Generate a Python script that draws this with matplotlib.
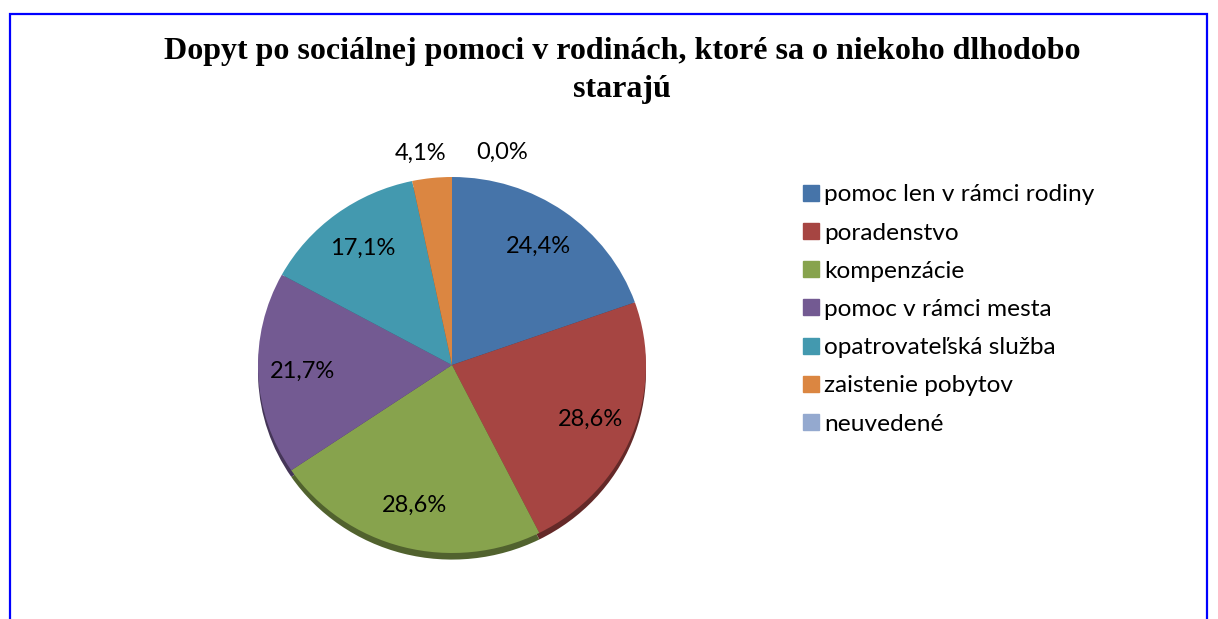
import matplotlib
matplotlib.use("Agg")
import matplotlib.pyplot as plt
from matplotlib.lines import Line2D
from matplotlib.patches import Rectangle
import matplotlib.colors as mcolors
import numpy as np

title_lines = ["Dopyt po sociálnej pomoci v rodinách, ktoré sa o niekoho dlhodobo",
               "starajú"]
categories = ["pomoc len v rámci rodiny", "poradenstvo", "kompenzácie",
              "pomoc v rámci mesta", "opatrovateľská služba", "zaistenie pobytov",
              "neuvedené"]
values = [24.4, 28.6, 28.6, 21.7, 17.1, 4.1, 0.0]
colors = ["#4674A9", "#A64542", "#87A34D", "#735A92", "#4399AF", "#DB8641", "#94A9CF"]

W, H = 1218, 619
fig = plt.figure(figsize=(W / 100, H / 100), dpi=100)
fig.patch.set_facecolor("white")

# border
fig.patches.append(Rectangle((9.5 / W, -0.05), (1207 - 9.5) / W, (H - 13.5) / H + 0.05,
                             transform=fig.transFigure, fill=False,
                             edgecolor="#0000FF", linewidth=1.6))

# title
fig.text(622 / W, 1 - 52 / H, title_lines[0], ha="center", va="center",
         fontsize=23, fontweight="bold", family="Liberation Serif")
fig.text(622 / W, 1 - 90 / H, title_lines[1], ha="center", va="center",
         fontsize=23, fontweight="bold", family="Liberation Serif")

# pie axes
cx, cy = 452, H - 365
rx, ry = 194, 188
ax = fig.add_axes([(cx - 260) / W, (cy - 252) / H, 520 / W, 504 / H])

dark = [tuple(np.array(mcolors.to_rgb(c)) * 0.6) for c in colors]
ax.pie(values, colors=dark, startangle=90, counterclock=False, radius=1.0,
       center=(0, -0.035), frame=True, wedgeprops=dict(linewidth=0))
wedges, _ = ax.pie(values, colors=colors, startangle=90, counterclock=False,
                   radius=1.0, center=(0, 0), frame=True,
                   wedgeprops=dict(linewidth=0))
ax.set_aspect("auto")
ax.set_xlim(-260 / rx, 260 / rx)
ax.set_ylim(-252 / ry, 252 / ry)
ax.axis("off")

lab_font = "Lato"
for w, v in zip(wedges, values):
    mid = np.deg2rad((w.theta1 + w.theta2) / 2)
    d = 0.77 if v >= 5 else 1.13
    x, y = d * np.cos(mid), d * np.sin(mid)
    txt = f"{v:.1f}%".replace(".", ",")
    if v == 0:
        dx = 36
    elif v < 5:
        dx = -6
    else:
        dx = 0
    ax.annotate(txt, (x, y), xytext=(dx, 0), textcoords="offset points",
                ha="center", va="center", fontsize=17, family=lab_font)

handles = [Line2D([], [], marker="s", linestyle="none", markersize=11,
                  markerfacecolor=c, markeredgecolor=c) for c in colors]
fig.legend(handles, categories, loc="upper left",
           bbox_to_anchor=(790 / W, 1 - 172 / H), frameon=False,
           prop=dict(family=lab_font, size=17.6), handlelength=0.7,
           handletextpad=0.2, labelspacing=0.7, borderpad=0)

fig.savefig("out.png", dpi=100)
